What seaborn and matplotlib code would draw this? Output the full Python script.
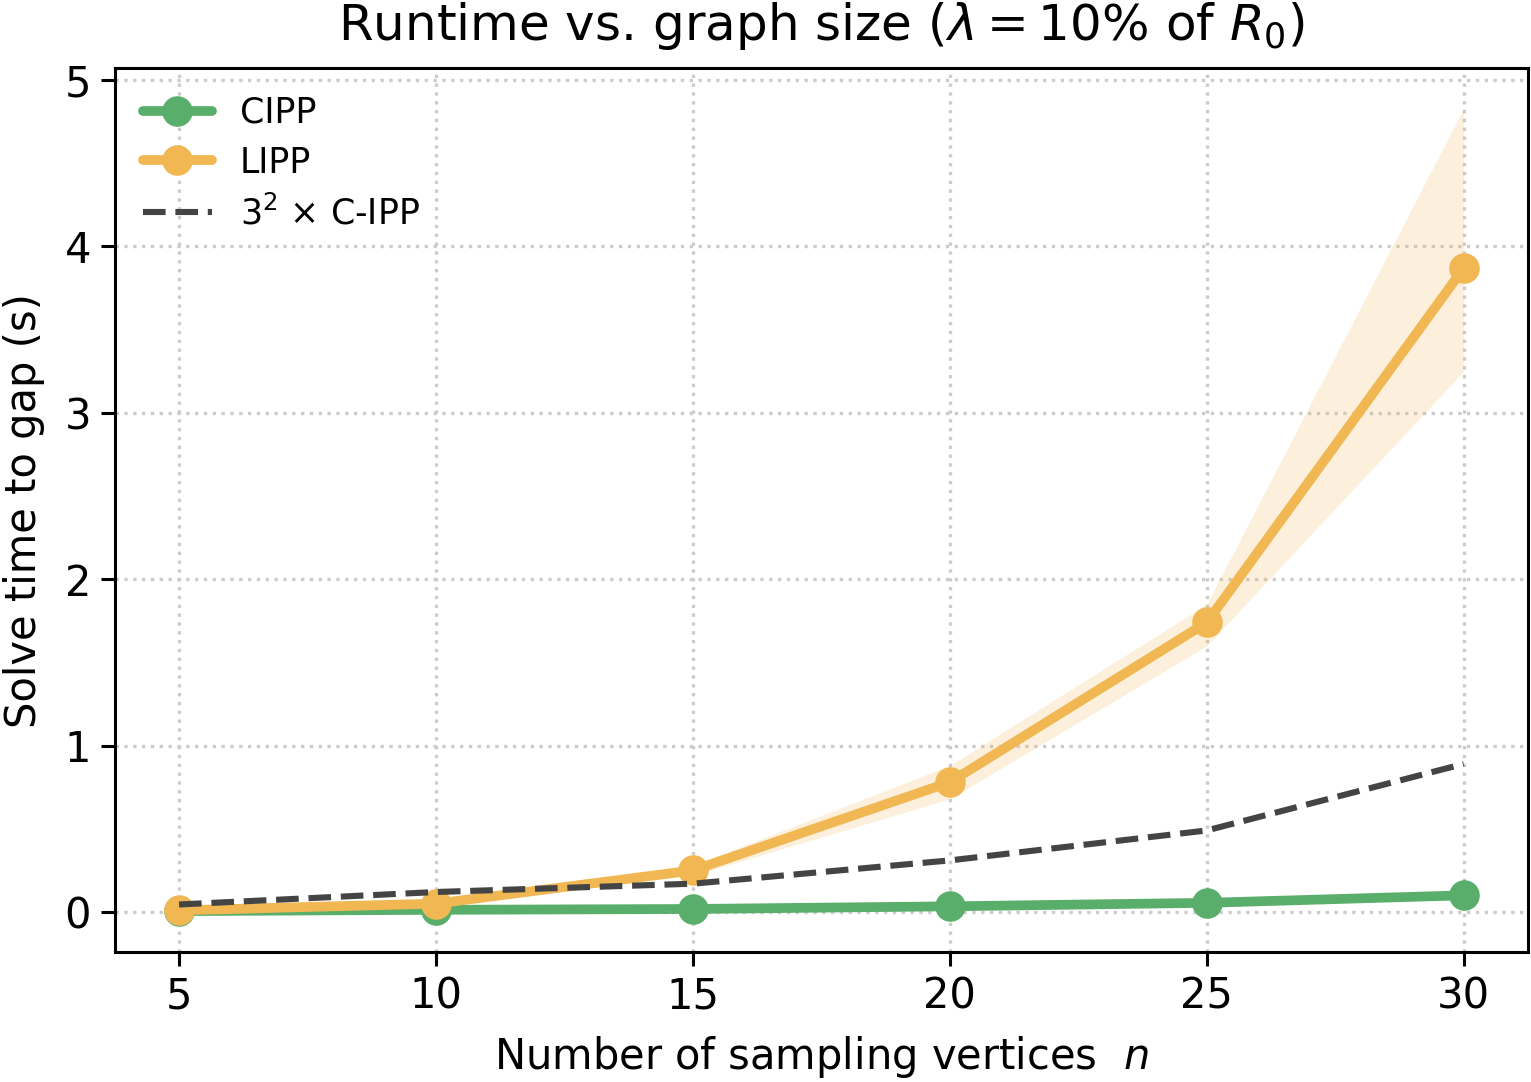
import matplotlib
matplotlib.use('Agg')

import numpy as np
import pandas as pd
import matplotlib.pyplot as plt
import seaborn as sns

sns.set_theme(style="ticks")
plt.rcParams['font.family'] = ['DejaVu Sans']
plt.rcParams['text.color'] = 'black'
plt.rcParams['axes.labelcolor'] = 'black'

n_vertices = [5, 10, 15, 20, 25, 30]
cipp_time = [0.005, 0.013, 0.018, 0.034, 0.055, 0.10]
lipp_time = [0.01, 0.05, 0.25, 0.78, 1.74, 3.87]
lipp_low = [0.0, 0.04, 0.22, 0.68, 1.60, 3.25]
lipp_high = [0.02, 0.06, 0.28, 0.88, 1.85, 4.83]
scaled_cipp = [0.045, 0.12, 0.17, 0.31, 0.49, 0.89]

green = "#5AAE6B"
orange = "#F0B752"

df = pd.DataFrame({'n': n_vertices, 'CIPP': cipp_time, 'LIPP': lipp_time,
                   'ref': scaled_cipp})

fig, ax = plt.subplots(figsize=(7.655, 5.41), dpi=200)
fig.subplots_adjust(left=0.075, right=0.998, top=0.937, bottom=0.12)

ax.fill_between(n_vertices, lipp_low, lipp_high, color=orange, alpha=0.2,
                linewidth=0)
sns.lineplot(data=df, x='n', y='CIPP', ax=ax, color=green, lw=3.5,
             marker='o', markersize=11, markeredgewidth=0, label='CIPP')
sns.lineplot(data=df, x='n', y='LIPP', ax=ax, color=orange, lw=3.5,
             marker='o', markersize=11, markeredgewidth=0, label='LIPP')
sns.lineplot(data=df, x='n', y='ref', ax=ax, color="#444444", lw=2.2,
             linestyle='--', label=r'$3^2$ × C-IPP')

ax.grid(True, linestyle=':', color='#cccccc', linewidth=1.2)
ax.set_xticks(n_vertices)
ax.set_yticks([0, 1, 2, 3, 4, 5])
ax.tick_params(labelsize=15, width=1.1, length=5, colors='black')
for s in ax.spines.values():
    s.set_linewidth(1.1)
    s.set_color('black')

ax.set_xlabel(r'Number of sampling vertices  $n$', fontsize=15, labelpad=6)
ax.set_ylabel('Solve time to gap (s)', fontsize=15, labelpad=7)
ax.set_title(r'Runtime vs. graph size ($\lambda = 10\%$ of $R_0$)',
             fontsize=18, pad=10)
ax.legend(loc='upper left', frameon=False, fontsize=12.5, handlelength=2.0,
          borderaxespad=0.4, labelspacing=0.45)

fig.savefig('out.png', dpi=200)
